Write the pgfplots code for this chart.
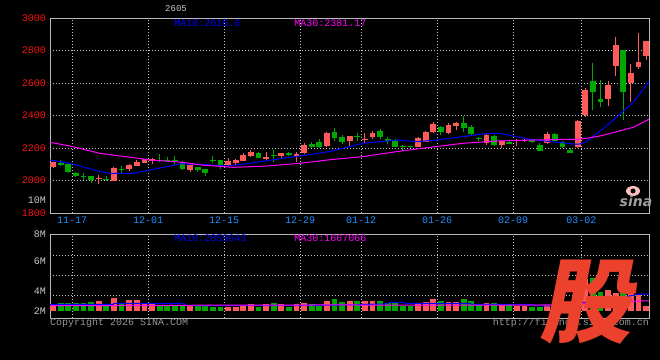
\documentclass[border=0pt]{standalone}
\usepackage{pgfplots}
\pgfplotsset{compat=1.18}
\usepackage{pgfplotstable}
\usepackage{fontspec}
\setmainfont{Liberation Mono}
\newfontfamily\cjk{Noto Sans CJK SC}
\newfontfamily\dvs{DejaVu Sans}
\newcommand\lab{\fontsize{10bp}{10bp}\selectfont}
\definecolor{upred}{RGB}{255,90,90}
\definecolor{dngreen}{RGB}{0,168,0}
\definecolor{ma10}{RGB}{0,0,255}
\definecolor{ma30}{RGB}{255,0,255}
\definecolor{gridc}{RGB}{200,200,200}
\definecolor{framec}{RGB}{185,185,185}
\definecolor{xlab}{RGB}{30,144,255}
\definecolor{ylab}{RGB}{250,20,20}
\definecolor{vlab}{RGB}{200,200,200}
\definecolor{logo}{RGB}{235,65,45}
\definecolor{copyc}{RGB}{150,150,150}

% red (up) candles: index, open, high, low, close, volume (M)
\pgfplotstableread{
i o h l c v
-3 2082 2116 2078 2112 2.41
3 2007 2036 1978 2013 2.78
5 1998 2085 1995 2078 3.01
7 2068 2102 2060 2095 2.86
8 2090 2125 2088 2115 2.86
9 2110 2132 2108 2130 2.60
10 2122 2140 2102 2130 2.60
15 2066 2097 2052 2093 2.41
20 2096 2136 2090 2120 2.29
21 2107 2135 2095 2125 2.29
22 2120 2171 2118 2157 2.47
23 2153 2190 2146 2177 2.55
25 2135 2173 2126 2143 2.55
27 2153 2172 2140 2171 2.55
29 2150 2173 2116 2160 2.55
30 2167 2228 2160 2218 2.65
33 2214 2300 2208 2290 2.80
36 2240 2276 2210 2274 2.78
38 2247 2290 2229 2258 2.78
39 2267 2307 2253 2290 2.78
45 2208 2265 2205 2262 2.55
46 2239 2305 2235 2299 2.70
47 2297 2358 2290 2348 2.94
49 2295 2352 2286 2342 2.70
50 2336 2362 2311 2352 2.68
54 2229 2286 2219 2280 2.60
56 2219 2248 2198 2243 2.47
58 2240 2255 2212 2252 2.41
59 2242 2256 2236 2252 2.39
62 2233 2298 2225 2286 2.50
66 2208 2370 2200 2368 3.80
67 2403 2567 2393 2557 4.50
70 2502 2612 2459 2588 3.60
71 2707 2885 2645 2834 3.43
73 2602 2715 2485 2660 3.40
74 2701 2906 2686 2729 3.25
75 2768 2860 2742 2858 2.39
}\upK

% green (down) candles
\pgfplotstableread{
i o h l c v
-2 2106 2126 2089 2098 2.62
-1 2100 2110 2046 2050 2.65
0 2048 2050 2022 2025 2.65
1 2030 2044 2000 2027 2.65
2 2026 2028 1987 2005 2.73
4 2009 2028 1995 2000 2.41
6 2069 2090 2046 2062 2.60
11 2127 2163 2112 2124 2.47
12 2128 2147 2112 2125 2.41
13 2127 2148 2096 2122 2.41
14 2112 2122 2062 2072 2.41
16 2083 2085 2050 2062 2.41
17 2070 2072 2030 2048 2.41
18 2128 2151 2106 2118 2.34
19 2126 2128 2072 2095 2.34
24 2171 2177 2136 2140 2.34
26 2157 2188 2116 2150 2.62
28 2170 2177 2149 2158 2.34
31 2225 2239 2198 2206 2.55
32 2239 2255 2198 2207 2.41
34 2296 2321 2240 2260 2.94
35 2266 2280 2227 2238 2.68
37 2274 2295 2245 2267 2.78
40 2307 2315 2258 2266 2.78
41 2255 2270 2225 2241 2.65
42 2245 2253 2204 2208 2.60
43 2212 2221 2184 2206 2.41
44 2211 2215 2198 2205 2.41
48 2331 2336 2280 2301 2.78
51 2352 2397 2301 2321 2.94
52 2327 2340 2280 2286 2.78
53 2262 2270 2240 2256 2.47
55 2274 2280 2212 2220 2.60
57 2239 2242 2222 2226 2.47
60 2249 2252 2230 2234 2.34
61 2218 2230 2182 2184 2.34
63 2286 2295 2240 2246 2.60
64 2234 2245 2198 2204 2.50
65 2188 2202 2170 2172 2.60
68 2612 2725 2434 2547 4.60
69 2502 2618 2454 2486 3.50
72 2803 2805 2372 2547 4.20
}\dnK

\begin{document}
\begin{tikzpicture}
\useasboundingbox (0,0) rectangle (660bp,360bp);
\fill[black] (0,0) rectangle (660bp,360bp);

% ---------------- price panel ----------------
\begin{axis}[
  at={(50bp,147bp)}, anchor=south west, scale only axis,
  width=599bp, height=195bp,
  xmin=-3.42, xmax=75.39, ymin=1800, ymax=3000,
  axis line style={draw=framec, line width=0.8bp},
  xtick={-0.5,9.5,19.5,29.5,37.5,47.5,57.5,66.5},
  xticklabels={11-17,12-01,12-15,12-29,01-12,01-26,02-09,03-02},
  ytick={1800,2000,2200,2400,2600,2800,3000},
  yticklabels={1800,2000,2200,2400,2600,2800,3000},
  major tick length=0pt,
  xmajorgrids, ymajorgrids,
  grid style={draw=gridc, line width=0.8bp, dash pattern=on 0.8bp off 2.2bp},
  xticklabel style={font=\lab, text=xlab, inner sep=0pt, anchor=north, yshift=-4bp},
  yticklabel style={font=\lab, text=ylab, inner sep=0pt, anchor=east, xshift=-4bp},
]
% wicks
\addplot[draw=none, mark=none, forget plot,
  error bars/.cd, y dir=minus, y explicit, error mark=none,
  error bar style={draw=upred, line width=1bp}]
  table[x=i, y=h, y error expr=\thisrow{h}-\thisrow{l}] {\upK};
\addplot[draw=none, mark=none, forget plot,
  error bars/.cd, y dir=minus, y explicit, error mark=none,
  error bar style={draw=dngreen, line width=1bp}]
  table[x=i, y=h, y error expr=\thisrow{h}-\thisrow{l}] {\dnK};
% bodies
\addplot[draw=none, mark=none, forget plot,
  error bars/.cd, y dir=minus, y explicit, error mark=none,
  error bar style={draw=upred, line width=5.8bp}]
  table[x=i, y=c, y error expr={max(\thisrow{c}-\thisrow{o},6)}] {\upK};
\addplot[draw=none, mark=none, forget plot,
  error bars/.cd, y dir=minus, y explicit, error mark=none,
  error bar style={draw=dngreen, line width=5.8bp}]
  table[x=i, y=o, y error expr={max(\thisrow{o}-\thisrow{c},6)}] {\dnK};
% MA10
\addplot[ma10, line width=1bp, mark=none] coordinates {
(-3.42,2126) (-0.79,2106) (3.16,2055) (4.47,2044) (7.5,2044) (9.74,2065)
(11.97,2085) (13.68,2102) (16.32,2100) (19.87,2089) (22.9,2106) (25.13,2122)
(27.24,2137) (29.47,2151) (33.42,2178) (37.76,2229) (42.24,2249) (44.87,2239)
(47.5,2249) (50.92,2270) (54.08,2290) (55.79,2290) (57.5,2274) (59.74,2253)
(64.08,2231) (65.92,2223) (66.32,2225) (67.24,2240) (67.63,2258) (68.95,2305)
(70.66,2370) (71.97,2425) (73.29,2480) (74.6,2560) (75.39,2612)};
% MA30
\addplot[ma30, line width=1bp, mark=none] coordinates {
(-3.42,2235) (-0.79,2212) (3.16,2167) (7.5,2141) (9.74,2126) (14.08,2112)
(16.32,2096) (20.66,2081) (25.13,2089) (29.47,2106) (33.42,2128) (37.76,2147)
(42.24,2178) (46.58,2204) (50.92,2229) (55.39,2243) (59.74,2249) (64.08,2253)
(65.92,2253) (67.24,2260) (68.95,2274) (71.18,2301) (73.29,2327) (75.39,2377)};
\end{axis}

% ---------------- volume panel ----------------
\begin{axis}[
  at={(50bp,42bp)}, anchor=south west, scale only axis,
  width=599bp, height=84bp,
  xmin=-3.42, xmax=75.39, ymin=1.4544, ymax=8.0,
  axis line style={draw=framec, line width=0.8bp},
  xtick={-0.5,9.5,19.5,29.5,37.5,47.5,57.5,66.5},
  xticklabels={},
  ytick={2,3.56,5.9,8}, yticklabels={2M,4M,6M,8M},
  minor ytick={3.247,4.806,6.365},
  major tick length=0pt, minor tick length=0pt,
  xmajorgrids, yminorgrids, ymajorgrids=false,
  grid style={draw=gridc, line width=0.8bp, dash pattern=on 0.8bp off 2.2bp},
  yticklabel style={font=\lab, text=vlab, inner sep=0pt, anchor=east, xshift=-4bp},
]
\addplot[draw=none, mark=none, forget plot,
  error bars/.cd, y dir=minus, y explicit, error mark=none,
  error bar style={draw=upred, line width=5.8bp}]
  table[x=i, y=v, y error expr=\thisrow{v}-2] {\upK};
\addplot[draw=none, mark=none, forget plot,
  error bars/.cd, y dir=minus, y explicit, error mark=none,
  error bar style={draw=dngreen, line width=5.8bp}]
  table[x=i, y=v, y error expr=\thisrow{v}-2] {\dnK};
\addplot[ma10, line width=1bp, mark=none] coordinates {
(-3.42,2.52) (4.87,2.52) (5.0,2.6) (14.08,2.6) (14.6,2.42) (33.42,2.45)
(40.9,2.55) (41.3,2.68) (43.0,2.68) (43.3,2.6) (51.8,2.6) (52.1,2.52)
(60.1,2.52) (60.5,2.39) (62.6,2.39) (68.9,2.8) (72.2,3.1) (74.2,3.32) (75.39,3.32)};
\addplot[ma30, line width=1bp, mark=none] coordinates {
(-3.42,2.41) (16.3,2.45) (33.4,2.47) (59.7,2.45) (63.7,2.5) (68.9,2.62)
(74.2,2.78) (75.39,2.78)};
\end{axis}

% ---------------- texts ----------------
\node[font=\fontsize{9bp}{9bp}\selectfont, text=vlab] at (176bp,351bp) {2605};
\node[font=\lab, text=ma10] at (207.5bp,336.5bp) {MA10:2616.6};
\node[font=\lab, text=ma30] at (330.5bp,336.5bp) {MA30:2381.17};
\node[font=\lab, text=vlab, anchor=east, inner sep=0pt] at (46bp,160bp) {10M};
\node[font=\lab, text=ma10] at (210.5bp,121.5bp) {MA10:2859643};
\node[font=\lab, text=ma30] at (330.5bp,121.5bp) {MA30:1667066};
\node[font=\lab, text=copyc, anchor=west, inner sep=0pt] at (50bp,37bp) {Copyright 2026 SINA.COM};
\node[font=\lab, text=copyc, anchor=east, inner sep=0pt] at (649bp,37bp) {http://finance.sina.com.cn};
% sina watermark
\fill[red!25] (633bp,169bp) ellipse (7bp and 5bp);
\fill[black] (633bp,169bp) circle (2.5bp);
\node[font=\dvs\bfseries\itshape\fontsize{14bp}{14bp}\selectfont, text=gray!75] at (636bp,158.5bp) {sina};
% big logo
\begin{scope}[shift={(592bp,57.5bp)}, xslant=0.2]
\node[transform shape, inner sep=0pt, text=logo, font=\cjk\bfseries\fontsize{92bp}{92bp}\selectfont] at (0,0) {股};
\end{scope}
\end{tikzpicture}
\end{document}
